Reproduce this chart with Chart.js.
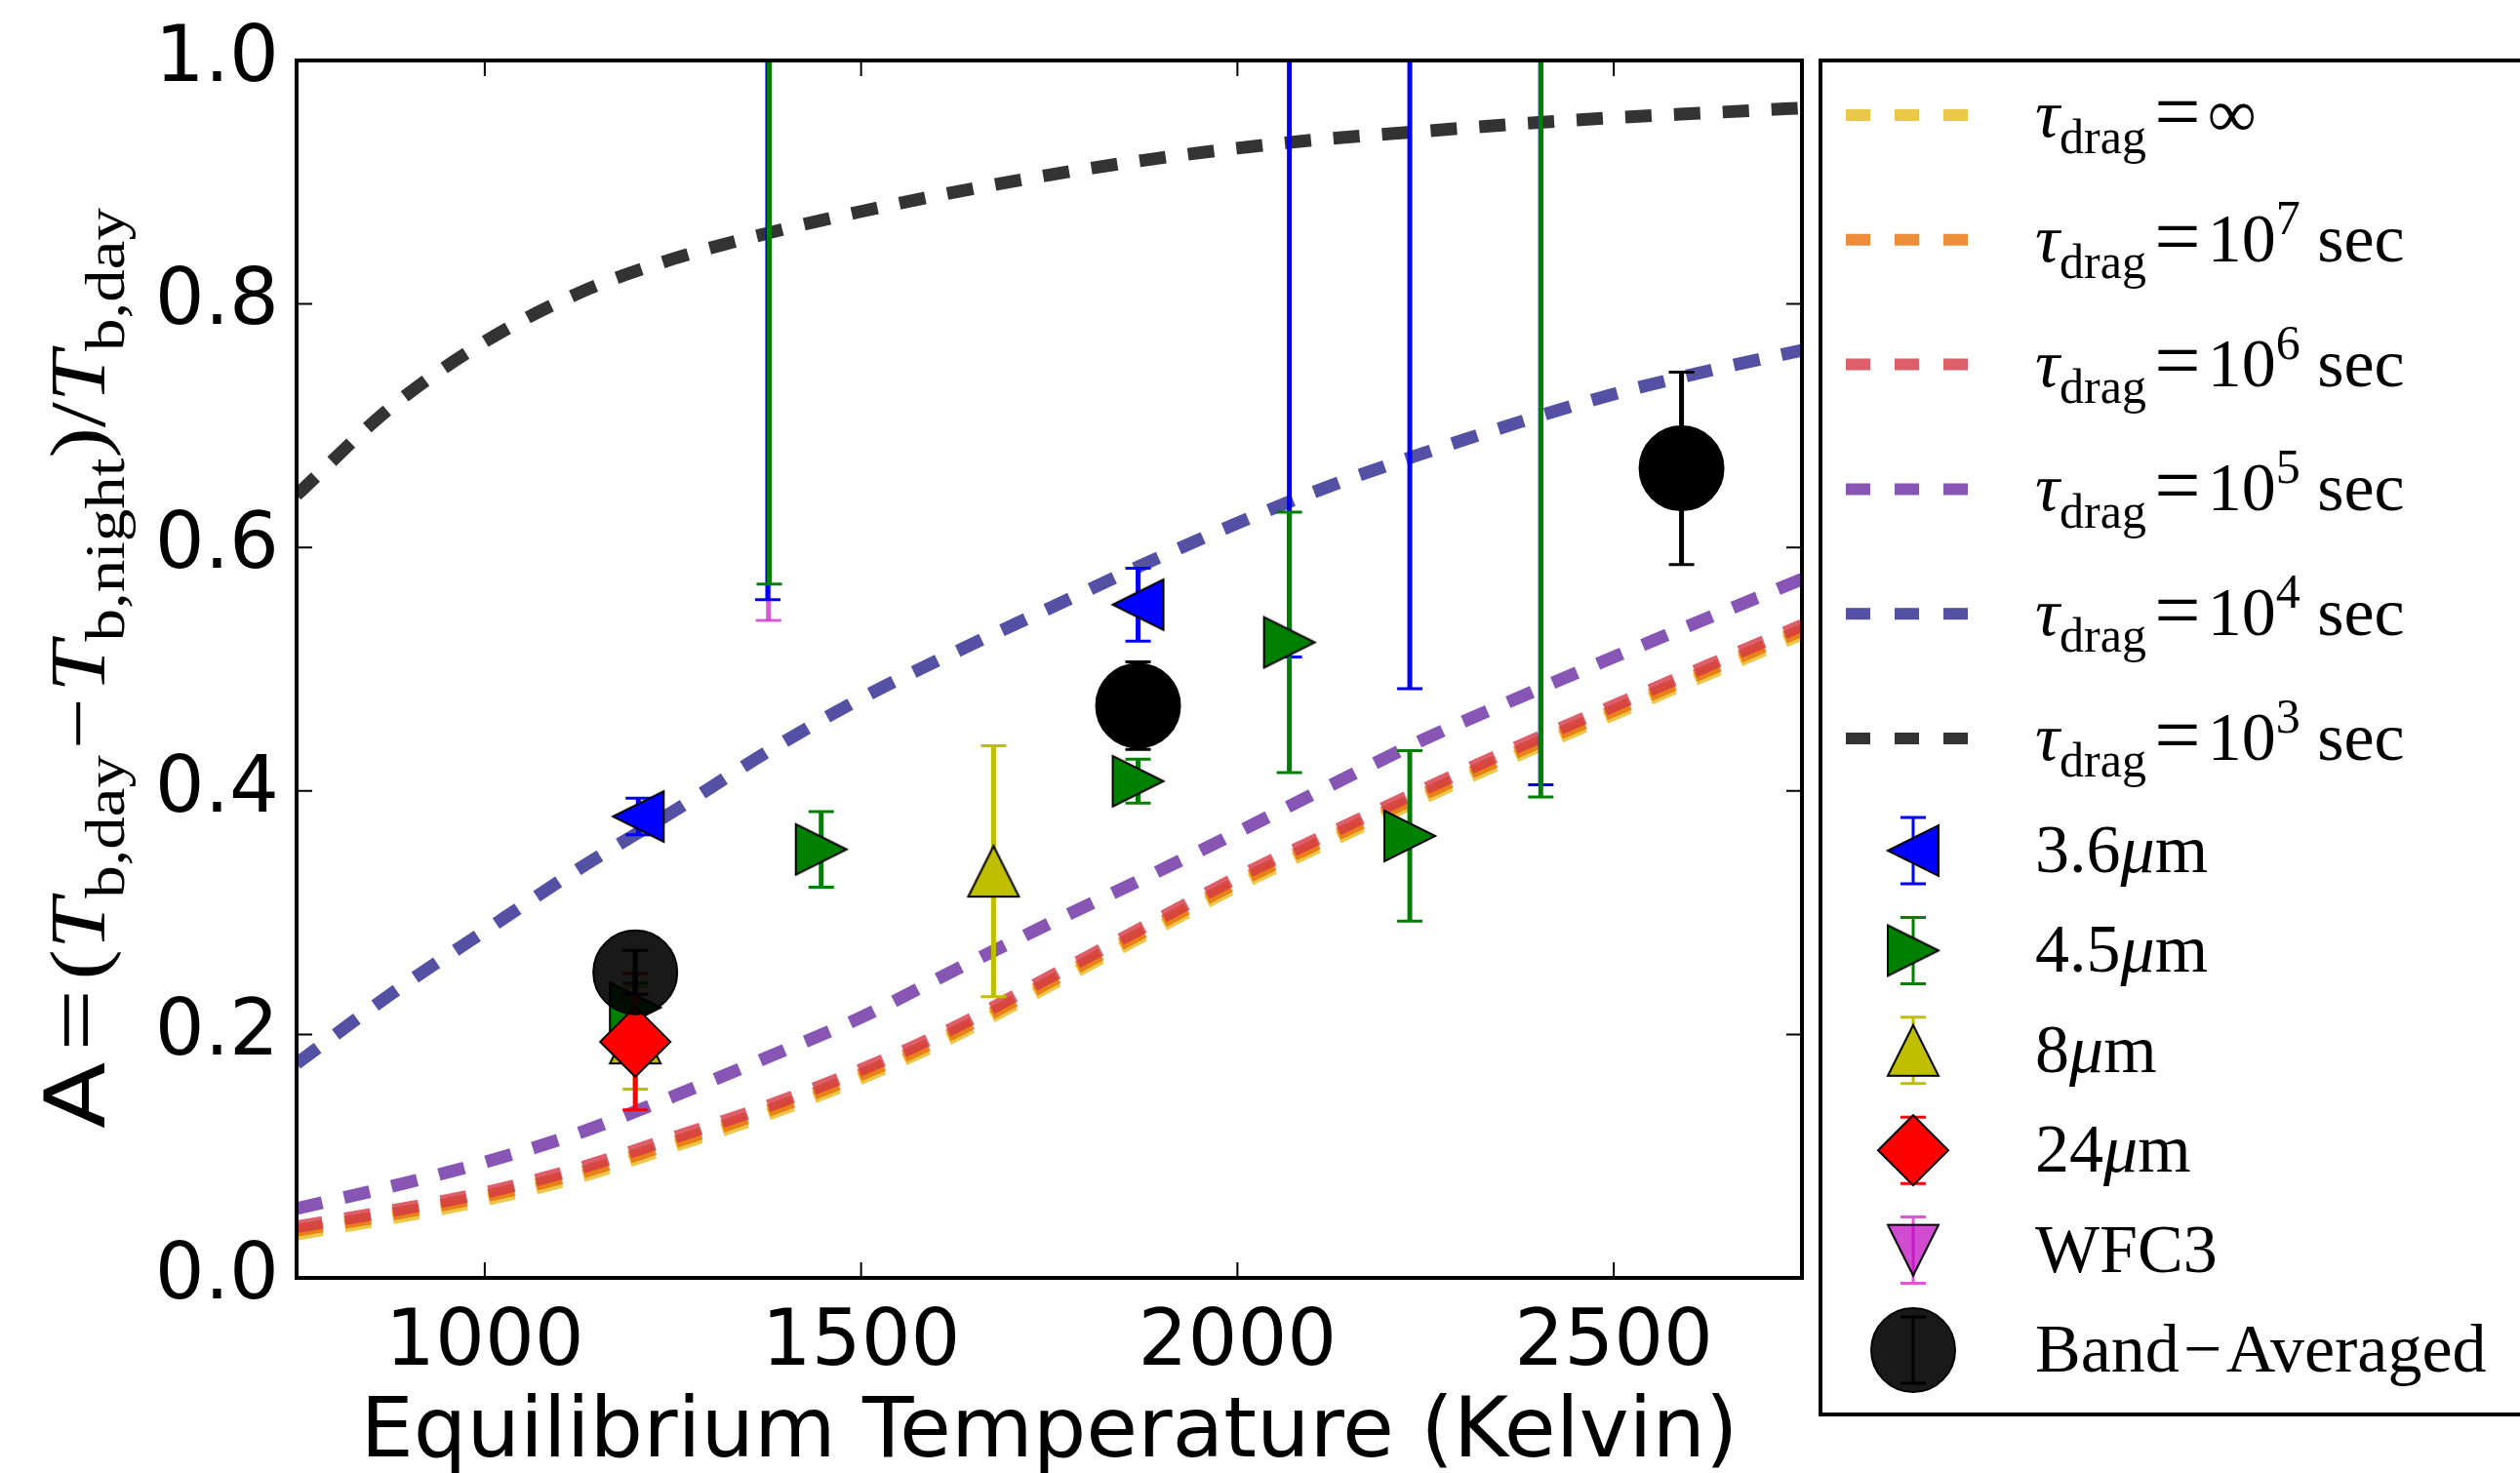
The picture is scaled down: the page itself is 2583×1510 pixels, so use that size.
<!DOCTYPE html>
<html lang="en">
  <head>
    <meta charset="utf-8" />
    <title>Day-night contrast vs equilibrium temperature</title>
    <script src="https://cdn.jsdelivr.net/npm/chart.js"></script>
    <style>
      html, body { margin: 0; padding: 0; background: #fff; }
    </style>
  </head>
  <body>
    <canvas id="chart" width="2583" height="1510"></canvas>

    <script>
      // model curves (one per drag timescale)
      var modelTemps = [750, 875, 1000, 1125, 1250, 1375, 1500, 1625, 1750, 1875, 2000, 2125, 2250, 2375, 2500, 2625, 2750];
      var tauInf = [0.036, 0.049, 0.064, 0.083, 0.108, 0.134, 0.164, 0.199, 0.240, 0.281, 0.322, 0.359, 0.395, 0.430, 0.463, 0.496, 0.529];
      var tau1e7 = [0.039, 0.052, 0.067, 0.086, 0.111, 0.137, 0.167, 0.202, 0.243, 0.284, 0.325, 0.362, 0.398, 0.433, 0.466, 0.499, 0.532];
      var tau1e6 = [0.042, 0.055, 0.070, 0.090, 0.115, 0.141, 0.171, 0.206, 0.247, 0.288, 0.329, 0.366, 0.402, 0.437, 0.470, 0.503, 0.536];
      var tau1e5 = [0.057, 0.075, 0.095, 0.119, 0.149, 0.181, 0.214, 0.253, 0.291, 0.328, 0.366, 0.405, 0.443, 0.477, 0.510, 0.542, 0.574];
      var tau1e4 = [0.176, 0.233, 0.285, 0.336, 0.383, 0.432, 0.476, 0.514, 0.550, 0.586, 0.620, 0.651, 0.678, 0.703, 0.726, 0.745, 0.762];
      var tau1e3 = [0.643, 0.715, 0.769, 0.809, 0.837, 0.858, 0.876, 0.892, 0.906, 0.918, 0.928, 0.936, 0.942, 0.948, 0.953, 0.957, 0.961];

      // observations (values above 1 sit off the top of the plot)
      var t36 = [1204, 1376, 1868, 2069, 2229, 2403];
      var a36 = [0.379, 1.26, 0.553, 1.18, 1.22, 1.30];
      var e36 = [0.015, 0.703, 0.030, 0.670, 0.736, 0.895];

      var t45 = [1200, 1378, 1447, 1868, 2069, 2229, 2403];
      var a45 = [0.222, 1.27, 0.352, 0.408, 0.522, 0.363, 1.29];
      var e45 = [0.020, 0.700, 0.031, 0.018, 0.107, 0.070, 0.895];

      var t8 = [1200, 1676];
      var a8 = [0.197, 0.334];
      var e8 = [0.042, 0.103];

      var t24 = [1200];
      var a24 = [0.194];
      var e24 = [0.056];

      var tWfc3 = [1377];
      var aWfc3 = [1.24];
      var eWfc3 = [0.700];

      var tBand = [1200, 1868, 2590];
      var aBand = [0.251, 0.470, 0.665];
      var eBand = [0.018, 0.036, 0.079];

      var xTicks = [1000, 1500, 2000, 2500];
      var yTicks = [0, 0.2, 0.4, 0.6, 0.8, 1.0];

      var SERIF = '"Liberation Serif"';

      function pts(xs, ys) {
        return xs.map(function (x, i) { return { x: x, y: ys[i] }; });
      }

      // matplotlib style triangles (square bounding box)
      function triangle(dir, fill) {
        var s = 52, p = 3, c = document.createElement("canvas");
        c.width = c.height = s + 2 * p;
        var g = c.getContext("2d"), a = p, b = p + s, m = p + s / 2;
        var v = {
          left: [[a, m], [b, a], [b, b]],
          right: [[b, m], [a, a], [a, b]],
          up: [[m, a], [a, b], [b, b]],
          down: [[m, b], [a, a], [b, a]]
        }[dir];
        g.beginPath();
        g.moveTo(v[0][0], v[0][1]);
        g.lineTo(v[1][0], v[1][1]);
        g.lineTo(v[2][0], v[2][1]);
        g.closePath();
        g.fillStyle = fill;
        g.fill();
        g.lineWidth = 2;
        g.strokeStyle = "#000";
        g.stroke();
        return c;
      }

      function curve(vals, color, order, parts) {
        return {
          data: pts(modelTemps, vals),
          showLine: true,
          borderColor: color,
          borderWidth: 13,
          borderDash: [27, 23],
          borderCapStyle: "butt",
          cubicInterpolationMode: "monotone",
          pointRadius: 0,
          clip: 0,
          order: order,
          legendParts: parts
        };
      }

      function obs(xs, ys, errs, style, fill, barColor, radius, order, parts) {
        return {
          data: pts(xs, ys),
          errors: errs,
          errorColor: barColor,
          pointStyle: style,
          pointRadius: radius,
          pointBackgroundColor: fill,
          backgroundColor: fill,
          pointBorderColor: "#000",
          pointBorderWidth: 2,
          clip: 0,
          order: order,
          legendParts: parts
        };
      }

      function tauLabel(exp) {
        var p = [["τ", "i"], ["drag", "sub"], ["=", "rel"]];
        if (exp === null) return p.concat([["∞", "n"]]);
        return p.concat([["10", "n"], [exp, "sup"], [" sec", "n"]]);
      }

      var datasets = [
        curve(tauInf, "rgba(231,186,29,0.8)", 16, tauLabel(null)),
        curve(tau1e7, "rgba(232,112,10,0.8)", 15, tauLabel("7")),
        curve(tau1e6, "rgba(211,55,69,0.8)", 14, tauLabel("6")),
        curve(tau1e5, "rgba(105,44,161,0.8)", 13, tauLabel("5")),
        curve(tau1e4, "rgba(41,36,140,0.8)", 12, tauLabel("4")),
        curve(tau1e3, "rgba(0,0,0,0.8)", 11, tauLabel("3")),
        obs(t36, a36, e36, triangle("left", "#0000ff"), "#0000ff", "#0000ff", 26, 6,
          [["3.6", "n"], ["μ", "i"], ["m", "n"]]),
        obs(t45, a45, e45, triangle("right", "#008000"), "#008000", "#008000", 26, 5,
          [["4.5", "n"], ["μ", "i"], ["m", "n"]]),
        obs(t8, a8, e8, triangle("up", "#bfbf00"), "#bfbf00", "#bfbf00", 26, 4,
          [["8", "n"], ["μ", "i"], ["m", "n"]]),
        obs(t24, a24, e24, "rectRot", "#ff0000", "#ff0000", 36, 3,
          [["24", "n"], ["μ", "i"], ["m", "n"]]),
        obs(tWfc3, aWfc3, eWfc3, triangle("down", "rgba(191,0,191,0.7)"), "rgba(191,0,191,0.7)", "rgba(210,60,210,0.85)", 26, 7,
          [["WFC3", "n"]]),
        obs(tBand, aBand, eBand, "circle", ["rgba(0,0,0,0.9)", "#000", "#000"], "#000", 43, 1,
          [["Band", "n"], ["−", "bin"], ["Averaged", "n"]])
      ];

      // draws a run of text pieces (math-ish sub/superscripts); returns end x
      function drawParts(ctx, parts, x, y, size, measureOnly) {
        var small = Math.round(size * 0.71);
        parts.forEach(function (p) {
          var txt = p[0], kind = p[1], dy = 0, font = size + "px " + SERIF;
          if (kind === "i") font = "italic " + font;
          if (kind === "sans") font = Math.round(size * 1.06) + "px 'DejaVu Sans'";
          if (kind === "sub") { font = small + "px " + SERIF; dy = size * 0.245; }
          if (kind === "sup") { font = small + "px " + SERIF; dy = -size * 0.4; }
          if (kind === "rel") { font = Math.round(size * 1.2) + "px " + SERIF; dy = size * 0.04; x += size * 0.12; }
          if (kind === "bin") x += size * 0.06;
          ctx.font = font;
          if (!measureOnly) ctx.fillText(txt, x, y + dy);
          x += ctx.measureText(txt).width;
          if (kind === "rel") x += size * 0.1;
          if (kind === "bin") x += size * 0.06;
        });
        return x;
      }

      var errorBars = {
        id: "errorBars",
        beforeDatasetDraw: function (chart, args) {
          var ds = chart.data.datasets[args.index];
          if (!ds.errors) return;
          var ctx = chart.ctx, a = chart.chartArea;
          var xs = chart.scales.x, ys = chart.scales.y;
          ctx.save();
          ctx.beginPath();
          ctx.rect(a.left, a.top, a.right - a.left, a.bottom - a.top);
          ctx.clip();
          ctx.strokeStyle = ds.errorColor;
          ds.data.forEach(function (p, i) {
            var x = xs.getPixelForValue(p.x);
            var lo = ys.getPixelForValue(p.y - ds.errors[i]);
            var hi = ys.getPixelForValue(p.y + ds.errors[i]);
            ctx.lineWidth = 5;
            ctx.beginPath();
            ctx.moveTo(x, lo);
            ctx.lineTo(x, hi);
            ctx.stroke();
            ctx.lineWidth = 3;
            ctx.beginPath();
            ctx.moveTo(x - 13, lo); ctx.lineTo(x + 13, lo);
            ctx.moveTo(x - 13, hi); ctx.lineTo(x + 13, hi);
            ctx.stroke();
          });
          ctx.restore();
        }
      };

      var frameAndDecor = {
        id: "frameAndDecor",
        afterDatasetsDraw: function (chart) {
          var ctx = chart.ctx, a = chart.chartArea;
          var xs = chart.scales.x, ys = chart.scales.y;
          ctx.save();
          ctx.strokeStyle = "#000";
          // inward ticks on all four sides
          ctx.lineWidth = 2;
          ctx.beginPath();
          xs.ticks.forEach(function (t) {
            var x = xs.getPixelForValue(t.value);
            ctx.moveTo(x, a.bottom); ctx.lineTo(x, a.bottom - 16);
            ctx.moveTo(x, a.top); ctx.lineTo(x, a.top + 16);
          });
          ys.ticks.forEach(function (t) {
            var y = ys.getPixelForValue(t.value);
            ctx.moveTo(a.left, y); ctx.lineTo(a.left + 16, y);
            ctx.moveTo(a.right, y); ctx.lineTo(a.right - 16, y);
          });
          ctx.stroke();
          ctx.lineWidth = 4;
          ctx.strokeRect(a.left, a.top, a.right - a.left, a.bottom - a.top);
          ctx.restore();
        },
        afterDraw: function (chart) {
          var ctx = chart.ctx;
          ctx.save();
          ctx.fillStyle = "#000";
          ctx.textBaseline = "alphabetic";
          ctx.textAlign = "left";

          // rotated y-axis label
          var yParts = [["A", "sans"], ["=", "rel"], ["(", "n"], ["T", "i"], ["b,day", "sub"],
            ["−", "bin"], ["T", "i"], ["b,night", "sub"], [")", "n"], ["/", "n"], ["T", "i"], ["b,day", "sub"]];
          var natural = drawParts(ctx, yParts, 0, 0, 80, true);
          ctx.save();
          ctx.translate(107, 1157);
          ctx.rotate(-Math.PI / 2);
          ctx.scale(944 / natural, 1);
          drawParts(ctx, yParts, 0, 0, 80, false);
          ctx.restore();

          // legend box
          ctx.lineWidth = 4;
          ctx.strokeStyle = "#000";
          ctx.strokeRect(1866, 62, 800, 1388);

          var lineRow = 0, markRow = 0;
          chart.data.datasets.forEach(function (ds) {
            var y;
            if (ds.showLine) {
              y = 118 + 127.8 * lineRow++;
              ctx.save();
              ctx.strokeStyle = ds.borderColor;
              ctx.lineWidth = 12;
              ctx.setLineDash([25, 25]);
              ctx.lineCap = "butt";
              ctx.beginPath();
              ctx.moveTo(1892, y);
              ctx.lineTo(2017, y);
              ctx.stroke();
              ctx.restore();
            } else {
              y = 872 + 102.4 * markRow++;
              ctx.save();
              ctx.strokeStyle = ds.errorColor;
              ctx.lineWidth = 3;
              ctx.beginPath();
              ctx.moveTo(1961, y - 34); ctx.lineTo(1961, y + 34);
              ctx.moveTo(1948, y - 34); ctx.lineTo(1974, y - 34);
              ctx.moveTo(1948, y + 34); ctx.lineTo(1974, y + 34);
              ctx.stroke();
              var fill = Array.isArray(ds.backgroundColor) ? ds.backgroundColor[0] : ds.backgroundColor;
              ctx.fillStyle = fill;
              ctx.strokeStyle = "#000";
              ctx.lineWidth = 2;
              Chart.helpers.drawPoint(ctx, {
                pointStyle: ds.pointStyle, rotation: 0, radius: ds.pointRadius, borderWidth: 2
              }, 1961, y);
              ctx.restore();
            }
            ctx.fillStyle = "#000";
            drawParts(ctx, ds.legendParts, 2086, y + 22, 70, false);
          });
          ctx.restore();
        }
      };

      new Chart(document.getElementById("chart"), {
        type: "scatter",
        data: { datasets: datasets },
        plugins: [errorBars, frameAndDecor],
        options: {
          responsive: false,
          animation: false,
          layout: { padding: { left: 0, top: 62, right: 736, bottom: 0 } },
          plugins: { legend: { display: false }, tooltip: { enabled: false } },
          scales: {
            x: {
              type: "linear",
              min: 750,
              max: 2750,
              grid: { display: false },
              border: { display: false },
              ticks: {
                color: "#000",
                font: { family: "DejaVu Sans", size: 80 },
                padding: 12,
                maxRotation: 0,
                autoSkip: false,
                callback: function (v) { return String(v); }
              },
              title: {
                display: true,
                text: "Equilibrium Temperature (Kelvin)",
                color: "#000",
                font: { family: "DejaVu Sans", size: 86 },
                padding: { top: 0, bottom: -12 }
              },
              afterBuildTicks: function (s) {
                s.ticks = xTicks.map(function (v) { return { value: v }; });
              },
              afterFit: function (s) { s.height = 200; }
            },
            y: {
              type: "linear",
              min: 0,
              max: 1,
              grid: { display: false },
              border: { display: false },
              ticks: {
                color: "#000",
                font: { family: "DejaVu Sans", size: 80 },
                padding: 10,
                callback: function (v) { return v.toFixed(1); }
              },
              afterBuildTicks: function (s) {
                s.ticks = yTicks.map(function (v) { return { value: v }; });
              },
              afterFit: function (s) { s.width = 304; }
            }
          }
        }
      });
    </script>
  </body>
</html>
